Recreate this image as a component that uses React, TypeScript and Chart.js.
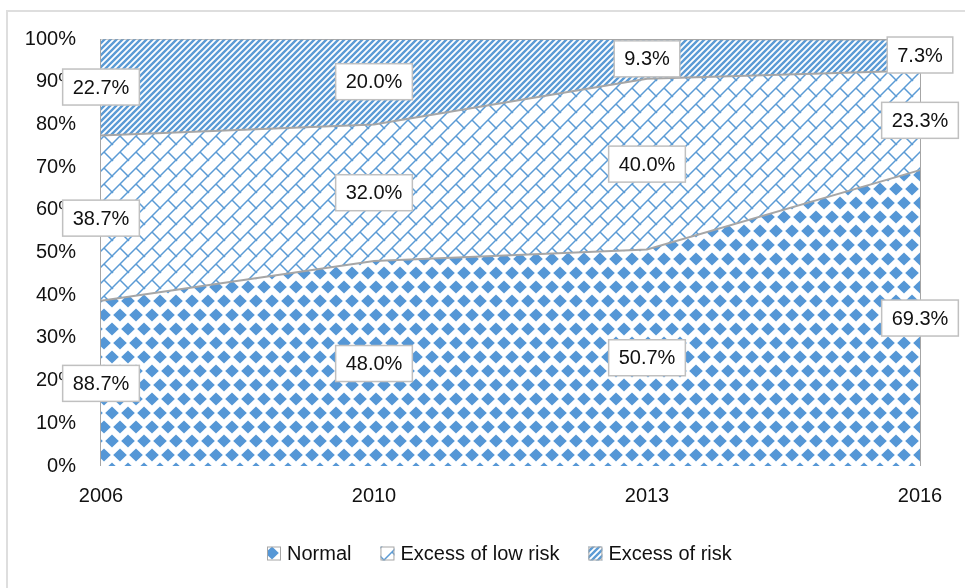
import React, { useEffect, useRef } from 'react';
import { Chart, registerables } from 'chart.js';

Chart.register(...registerables);

const years = ['2006', '2010', '2013', '2016'];
const seriesNames = ['Normal', 'Excess of low risk', 'Excess of risk'];
const normal = [38.7, 48.0, 50.7, 69.3];
const lowRisk = [38.7, 32.0, 40.0, 23.3];
const risk = [22.7, 20.0, 9.3, 7.3];
// data labels as printed on the original chart (2006 "Normal" is printed as 88.7%)
const normalLabelText = ['88.7%', '48.0%', '50.7%', '69.3%'];
const lowRiskLabelText = lowRisk.map((v) => v.toFixed(1) + '%');
const riskLabelText = risk.map((v) => v.toFixed(1) + '%');
const yTickStep = 10;
const yMax = 100;

const FONT = '"Liberation Sans", Arial, sans-serif';
const BLUE = '#5b9bd5';
const EDGE = '#a6a6a6';

function makeTile(w: number, h: number, draw: (g: CanvasRenderingContext2D) => void) {
  const c = document.createElement('canvas');
  c.width = w;
  c.height = h;
  const g = c.getContext('2d') as CanvasRenderingContext2D;
  g.fillStyle = '#ffffff';
  g.fillRect(0, 0, w, h);
  draw(g);
  return c;
}

function diamondTile() {
  return makeTile(16, 28, (g) => {
    g.fillStyle = '#5597d6';
    const d = (cx: number, cy: number) => {
      g.beginPath();
      g.moveTo(cx, cy - 6.5);
      g.lineTo(cx + 6.8, cy);
      g.lineTo(cx, cy + 6.5);
      g.lineTo(cx - 6.8, cy);
      g.closePath();
      g.fill();
    };
    d(8, 7);
    d(0, 21);
    d(16, 21);
    d(8, 35);
    d(0, -7);
    d(16, -7);
  });
}

function brickTile() {
  return makeTile(16, 16, (g) => {
    g.strokeStyle = BLUE;
    g.lineWidth = 1.5;
    g.beginPath();
    g.moveTo(-2, 18);
    g.lineTo(18, -2);
    g.moveTo(-2, 2);
    g.lineTo(2, -2);
    g.moveTo(14, 18);
    g.lineTo(18, 14);
    g.moveTo(8, 8);
    g.lineTo(18, 18);
    g.moveTo(-2, -2);
    g.lineTo(1, 1);
    g.stroke();
  });
}

function stripeTile() {
  return makeTile(6, 6, (g) => {
    g.strokeStyle = BLUE;
    g.lineWidth = 2.4;
    g.beginPath();
    g.moveTo(-1, 7);
    g.lineTo(7, -1);
    g.moveTo(-2, 2);
    g.lineTo(2, -2);
    g.moveTo(4, 8);
    g.lineTo(8, 4);
    g.stroke();
  });
}

export default function App() {
  const canvasRef = useRef<HTMLCanvasElement | null>(null);

  useEffect(() => {
    const canvas = canvasRef.current;
    if (!canvas) return;
    const ctx0 = canvas.getContext('2d') as CanvasRenderingContext2D;
    const patterns = [
      ctx0.createPattern(diamondTile(), 'repeat') as CanvasPattern,
      ctx0.createPattern(brickTile(), 'repeat') as CanvasPattern,
      ctx0.createPattern(stripeTile(), 'repeat') as CanvasPattern,
    ];
    const series = [normal, lowRisk, risk];
    const labelTexts = [normalLabelText, lowRiskLabelText, riskLabelText];

    const overlay = {
      id: 'overlay',
      afterDraw(chart: any) {
        const { ctx, scales } = chart;
        const xs = scales.x;
        const ys = scales.y;
        ctx.save();
        ctx.font = `20px ${FONT}`;
        ctx.textAlign = 'center';
        ctx.textBaseline = 'middle';
        series.forEach((vals, si) => {
          vals.forEach((v, i) => {
            let base = 0;
            for (let k = 0; k < si; k++) base += series[k][i];
            const px = xs.getPixelForValue(i);
            const py = ys.getPixelForValue(base + v / 2);
            const text = labelTexts[si][i];
            const w = ctx.measureText(text).width + 20;
            const h = 36;
            ctx.fillStyle = '#ffffff';
            ctx.fillRect(px - w / 2, py - h / 2, w, h);
            ctx.strokeStyle = '#c0c0c0';
            ctx.lineWidth = 1.5;
            ctx.strokeRect(px - w / 2, py - h / 2, w, h);
            ctx.fillStyle = '#111111';
            ctx.fillText(text, px, py + 1);
          });
        });

        // legend
        let lx = 267;
        const ly = 553.5;
        ctx.textAlign = 'left';
        seriesNames.forEach((name, i) => {
          ctx.fillStyle = patterns[i];
          ctx.fillRect(lx, ly - 7, 14, 14);
          ctx.strokeStyle = EDGE;
          ctx.lineWidth = 1;
          ctx.strokeRect(lx + 0.5, ly - 6.5, 13, 13);
          ctx.fillStyle = '#111111';
          ctx.fillText(name, lx + 20, ly + 1);
          lx += 20 + ctx.measureText(name).width + 29;
        });
        ctx.restore();
      },
    };

    const chart = new Chart(canvas, {
      type: 'line',
      data: {
        labels: years,
        datasets: series.map((vals, i) => ({
          label: seriesNames[i],
          data: vals,
          fill: i === 0 ? 'origin' : '-1',
          backgroundColor: patterns[i],
          borderColor: EDGE,
          borderWidth: 2,
          pointRadius: 0,
          pointHoverRadius: 0,
          tension: 0,
        })),
      },
      options: {
        responsive: false,
        animation: false,
        devicePixelRatio: 1,
        layout: { padding: { top: 39, right: 45, left: 0, bottom: 0 } },
        plugins: {
          legend: { display: false },
          tooltip: { enabled: false },
        },
        scales: {
          x: {
            type: 'category',
            offset: false,
            z: 1,
            border: { display: false },
            grid: {
              drawTicks: false,
              lineWidth: 2,
              color: (c: any) => (c.index === 0 || c.index === years.length - 1 ? EDGE : 'rgba(0,0,0,0)'),
            },
            ticks: {
              padding: 18,
              color: '#111111',
              font: { family: FONT, size: 20 },
              maxRotation: 0,
              autoSkip: false,
            },
            afterFit: (s: any) => {
              s.height = 122;
            },
          },
          y: {
            stacked: true,
            min: 0,
            max: yMax,
            border: { display: false },
            grid: { display: false, drawTicks: false },
            ticks: {
              stepSize: yTickStep,
              padding: 25,
              color: '#111111',
              font: { family: FONT, size: 20 },
              callback: (v: any) => `${v}%`,
            },
            afterFit: (s: any) => {
              s.width = 101;
            },
          },
        },
      },
      plugins: [overlay],
    });

    return () => chart.destroy();
  }, []);

  return (
    <div style={{ position: 'absolute', left: 0, top: 0, width: 965, height: 588, overflow: 'hidden', background: '#fff' }}>
      <div
        style={{
          position: 'absolute',
          left: 6,
          top: 10,
          width: 1100,
          height: 800,
          border: '2px solid #dedede',
          boxSizing: 'border-box',
        }}
      />
      <canvas
        ref={canvasRef}
        width={965}
        height={588}
        style={{ position: 'absolute', left: 0, top: 0, width: 965, height: 588 }}
      />
    </div>
  );
}
